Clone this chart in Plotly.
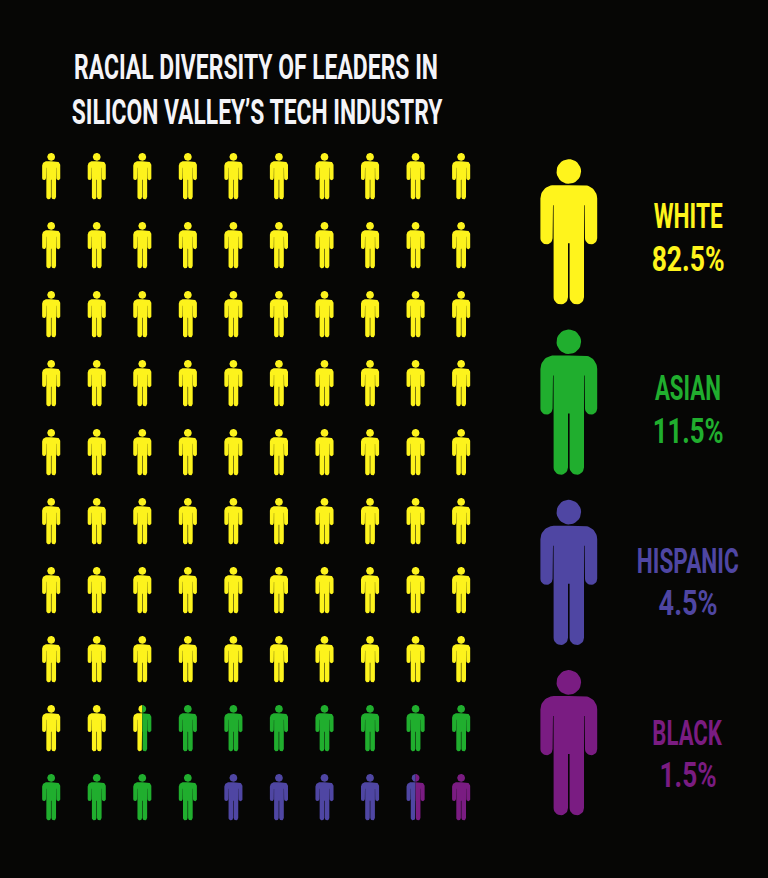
import json
import numpy as np
import plotly.graph_objects as go

TITLE_LINES = ["RACIAL DIVERSITY OF LEADERS IN", "SILICON VALLEY’S TECH INDUSTRY"]
CATEGORIES = ["WHITE", "ASIAN", "HISPANIC", "BLACK"]
PERCENTS = [82.5, 11.5, 4.5, 1.5]
COLORS_SMALL = ["#fdf31c", "#20ae2e", "#4f46a3", "#7a1c82"]
COLORS_BIG = ["#fff41c", "#20ae2e", "#4f46a3", "#7a1c82"]
BG = "#060605"
FONT = "Roboto, sans-serif"
# rendered widths of the condensed display lettering, in pixels
TEXT_WIDTHS = {
    TITLE_LINES[0]: 364, TITLE_LINES[1]: 371,
    "WHITE": 69, "ASIAN": 66, "HISPANIC": 102, "BLACK": 70,
    "82.5%": 73, "11.5%": 71, "4.5%": 59, "1.5%": 57,
}


def arc(cx, cy, r, a0, a1, n=14):
    t = np.radians(np.linspace(a0, a1, n))
    return [(cx + r * np.cos(a), cy + r * np.sin(a)) for a in t]


def glyph():
    # person glyph in a 145.7-high template, x measured from the centre line
    right = [(0, 26)] + arc(15, 39.4, 13.4, -90, 0) + arc(22.3, 79, 6.1, 0, 180)
    right += [(15.8, 46), (15.2, 46)] + arc(8.0, 138, 7.2, 0, 180) + [(0.8, 84), (0, 84)]
    left = [(-x, y) for x, y in reversed(right)]
    body = right + left[1:-1]
    head = arc(0, 12.3, 12.3, 0, 360, 32)
    return [head, body]


def clip(poly, xcut, keep_left):
    out = []
    n = len(poly)
    inside = (lambda p: p[0] <= xcut) if keep_left else (lambda p: p[0] >= xcut)
    for i in range(n):
        a, b = poly[i], poly[(i + 1) % n]
        if inside(a):
            out.append(a)
        if inside(a) != inside(b):
            t = (xcut - a[0]) / (b[0] - a[0])
            out.append((xcut, a[1] + t * (b[1] - a[1])))
    return out


GLYPH = glyph()
HALF_W = 28.4


def person(cx, top, scale, lo=0.0, hi=1.0):
    xs, ys = [], []
    for part in GLYPH:
        p = part
        if lo > 0:
            p = clip(p, -HALF_W + 2 * HALF_W * lo, False)
        if hi < 1:
            p = clip(p, -HALF_W + 2 * HALF_W * hi, True)
        if not p:
            continue
        p = p + [p[0]]
        xs += [cx + x * scale for x, _ in p] + [None]
        ys += [top + y * scale for _, y in p] + [None]
    return xs, ys


fig = go.Figure()

# pictogram grid: 10 x 10 people, each one percent
COLS, ROWS = 10, 10
X0, DX = 51.2, 45.55
Y0, DY = 153.0, 69.0
SMALL = 46.5 / 145.7
start = 0.0
for pct, col, name in zip(PERCENTS, COLORS_SMALL, CATEGORIES):
    end = start + pct
    xs, ys = [], []
    for i in range(int(np.floor(start)), int(np.ceil(end))):
        lo, hi = max(start - i, 0.0), min(end - i, 1.0)
        cx = X0 + DX * (i % COLS)
        top = Y0 + DY * (i // COLS)
        a, b = person(cx, top, SMALL, lo, hi)
        xs += a
        ys += b
    fig.add_trace(go.Scatter(x=xs, y=ys, mode="lines", fill="toself", fillcolor=col,
                             line=dict(width=0, color=col), hoverinfo="skip", name=name))
    start = end

# legend icons and labels
BX, BY0, BDY = 568.8, 159.2, 170.3
annotations = []
LABEL_Y = [216, 388, 561, 733]
VALUE_Y = [259, 431, 603, 775]
for k, (cat, pct, col) in enumerate(zip(CATEGORIES, PERCENTS, COLORS_BIG)):
    a, b = person(BX, BY0 + BDY * k, 1.0)
    fig.add_trace(go.Scatter(x=a, y=b, mode="lines", fill="toself", fillcolor=col,
                             line=dict(width=0, color=col), hoverinfo="skip", name=cat + " icon"))
    font = dict(size=35, color=col, family=FONT, weight=700)
    annotations.append(dict(x=687.5, y=LABEL_Y[k], text=cat, font=font))
    annotations.append(dict(x=687.5, y=VALUE_Y[k], text=f"{pct}%", font=font))

title_font = dict(size=35, color="#f4f4f8", family=FONT, weight=700)
annotations.append(dict(x=256, y=67, text=TITLE_LINES[0], font=title_font))
annotations.append(dict(x=256.5, y=112, text=TITLE_LINES[1], font=title_font))
for an in annotations:
    an.update(showarrow=False, xref="x", yref="y", xanchor="center", yanchor="middle")

fig.update_layout(
    width=768, height=878, margin=dict(l=0, r=0, t=0, b=0), autosize=False,
    paper_bgcolor=BG, plot_bgcolor=BG, showlegend=False, annotations=annotations,
    xaxis=dict(range=[0, 768], visible=False, fixedrange=True),
    yaxis=dict(range=[878, 0], visible=False, fixedrange=True),
)
POST = """
document.body.style.margin='0';
var W = %s;
document.querySelectorAll('.annotation-text').forEach(function(t){
  var w = W[t.textContent];
  if (!w) return;
  var b = t.getBBox(), c = b.x + b.width / 2, s = w / b.width;
  var old = t.getAttribute('transform') || '';
  t.setAttribute('transform', old + ' translate(' + c + ',0) scale(' + s + ',1) translate(' + (-c) + ',0)');
});
""" % json.dumps(TEXT_WIDTHS, ensure_ascii=False)
fig.write_html("out.html", config=dict(displayModeBar=False), post_script=POST)
